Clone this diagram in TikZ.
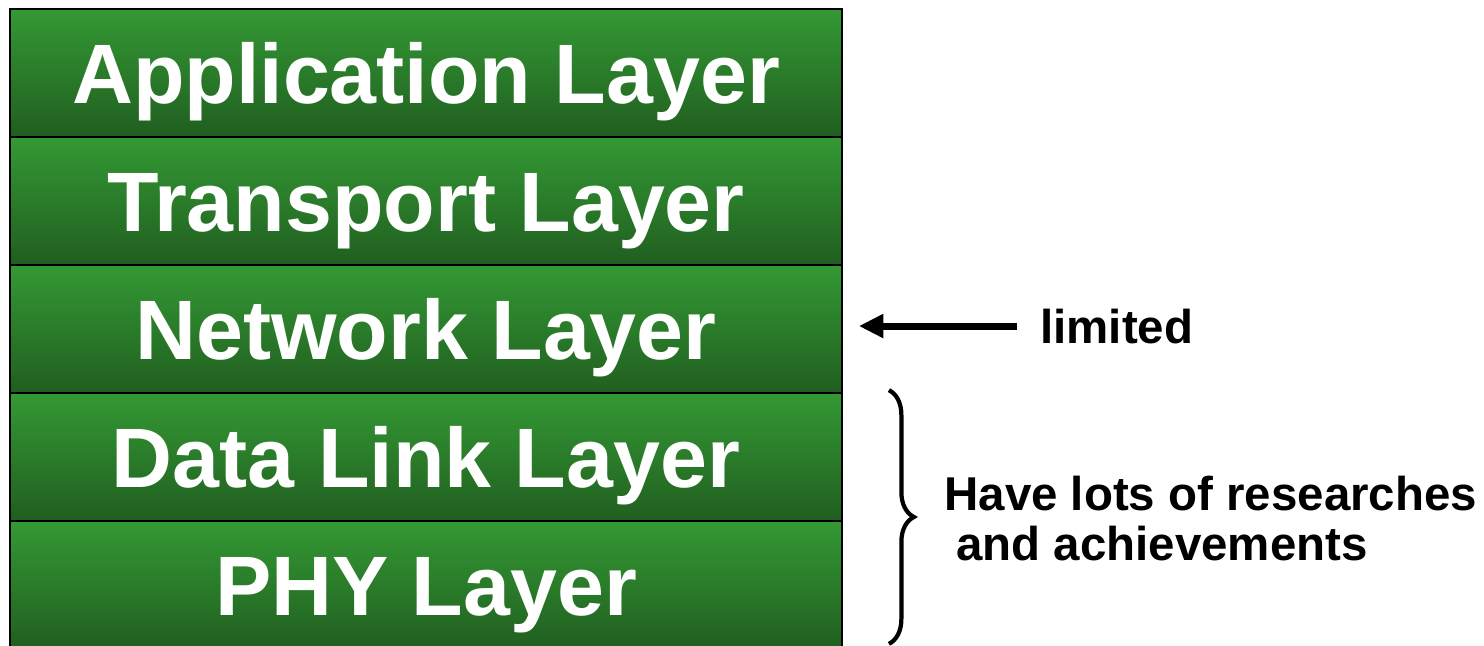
\documentclass[tikz,border=0pt]{standalone}
\usepackage{fontspec}
\setmainfont{Liberation Sans}
\usetikzlibrary{arrows.meta,decorations.pathreplacing}
\definecolor{layertop}{RGB}{52,153,52}
\definecolor{layerbot}{RGB}{32,94,32}
\begin{document}
\begin{tikzpicture}[
	layer/.style = {draw=black, line width=1pt, top color=layertop, bottom color=layerbot,
		minimum width=16.64cm, minimum height=2.56cm, inner sep=0pt,
		text=white, font=\fontsize{48}{56}\selectfont\bfseries,
		text height=34.4pt, text depth=0pt},
	note/.style = {inner sep=0pt, font=\fontsize{27}{30}\selectfont\bfseries}]
	\useasboundingbox (0,0) rectangle (29.68,-12.9);
	\node[layer] at (8.52,-1.46) (app) {Application Layer};
	\node[layer] at (8.52,-4.02) (trans) {Transport Layer};
	\node[layer] at (8.52,-6.58) (net) {Network Layer};
	\node[layer] at (8.52,-9.14) (dll) {Data Link Layer};
	\node[layer] at (8.52,-11.70) (phy) {PHY Layer};
	% remarks on the right
	\node[note, anchor=base west] at (20.8,-6.86) (lim) {limited};
	\draw[line width=4pt, -{Triangle[length=14pt,width=13pt]}, shorten <=0.46cm, shorten >=0.32cm]
		(lim.west) -- (lim.west -| net.east);
	\draw[line width=2.4pt, decorate, decoration={brace, amplitude=0.5cm}]
		([xshift=0.92cm,yshift=0.04cm]dll.north east) -- ([xshift=0.92cm,yshift=0.12cm]phy.south east);
	\node[note, anchor=base west] at (18.88,-10.2) (res) {Have lots of researches};
	\node[note, anchor=base west] at (19.12,-11.2) (ach) {and achievements};
\end{tikzpicture}
\end{document}
